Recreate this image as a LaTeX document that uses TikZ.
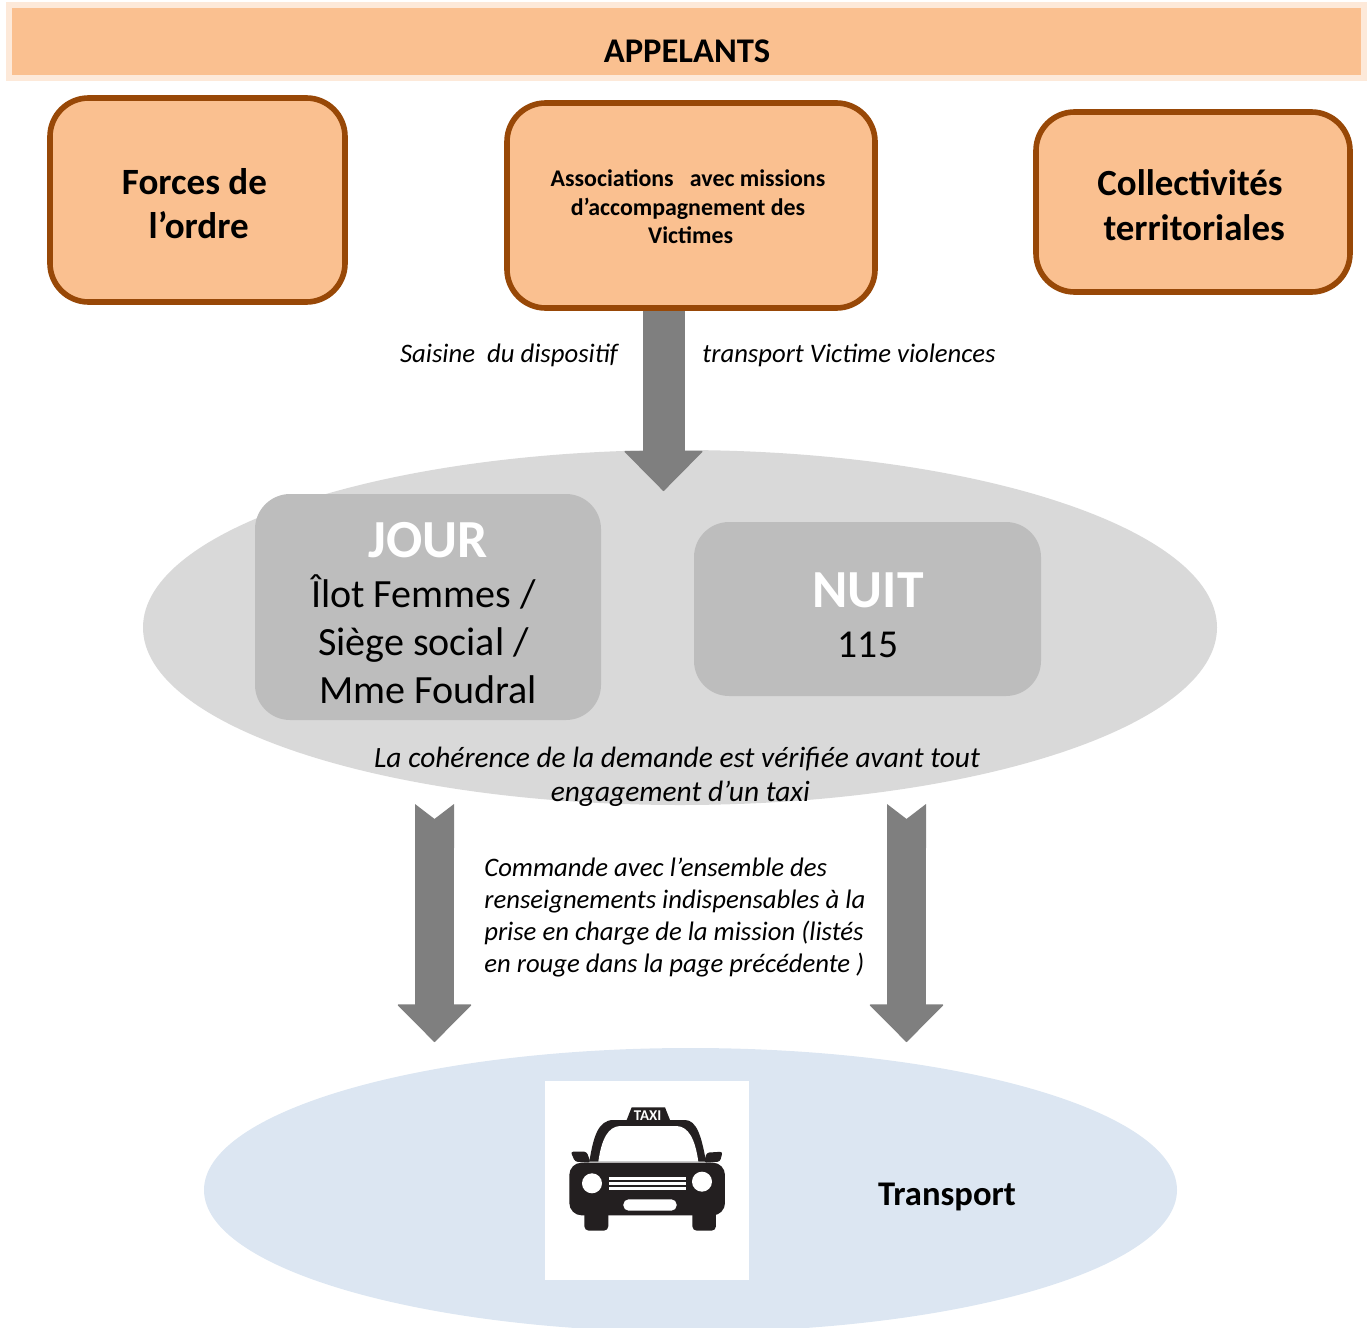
\documentclass[tikz,border=0pt]{standalone}
\usepackage{fontspec}
\setmainfont{Carlito}
\usetikzlibrary{arrows.meta, shapes.geometric}
\definecolor{appelfill}{HTML}{FAC090}
\definecolor{appelrim}{HTML}{FDE9D9}
\definecolor{appeldraw}{HTML}{984807}
\definecolor{flowgray}{HTML}{7F7F7F}
\definecolor{accueilfill}{HTML}{D9D9D9}
\definecolor{periodfill}{HTML}{BDBDBD}
\definecolor{transportfill}{HTML}{DCE6F2}
\definecolor{taxiblack}{HTML}{231F20}
% 1 unit = 1 pixel of the reference
\newcommand{\fsz}[2]{\fontsize{#1}{#2}\selectfont}
\tikzset{
    x=0.02cm, y=-0.02cm,
    appelbox/.style={draw=appeldraw, fill=appelfill, line width=3.2pt, rounded corners=22pt, inner sep=0pt},
    appeltext/.style={inner sep=0pt, align=center},
    periodbox/.style={fill=periodfill, rounded corners=20pt, align=center, inner sep=0pt},
    flowarrow/.style={draw=flowgray, line width=22.2pt, -{Triangle[length=21.6pt, width=42.8pt, round, line width=0.8pt]}},
    notched/.style={{Triangle Cap[reversed, length=8.5pt]}-{Triangle[length=21.6pt, width=42.8pt, round, line width=0.8pt]}},
    legend/.style={inner sep=0pt, align=center}
}
\begin{document}
\begin{tikzpicture}
    \clip (0,0) rectangle (1369,1328);
    % Banner
    \node[draw=appelrim, fill=appelfill, line width=3.4pt, minimum width=1355.5*0.02cm, minimum height=73*0.02cm, inner sep=0pt] (appelants) at (686.5,41.5) {};
    \node[appeltext, font=\fsz{19.7}{24}\bfseries] (appeltitle) at (687,51) {APPELANTS};
    % Callers
    \node[appelbox, minimum width=295*0.02cm, minimum height=204*0.02cm] (forces) at (197.5,200) {};
    \node[appeltext, font=\fsz{21.1}{25}\bfseries] (forcestext) at (194.5,203.5) {Forces de\\\ l’ordre};
    \node[appelbox, minimum width=368*0.02cm, minimum height=205*0.02cm] (assoc) at (691,205.5) {};
    \node[appeltext, font=\fsz{13.6}{16.2}\bfseries] (assoctext) at (688,207) {Associations\ \ \ avec missions\\d’accompagnement des\\\ Victimes};
    \node[appelbox, minimum width=314*0.02cm, minimum height=180*0.02cm] (collect) at (1193,202) {};
    \node[appeltext, font=\fsz{21}{25.6}\bfseries] (collecttext) at (1190,205.5) {Collectivités\\\ territoriales};
    % Reception
    \node[ellipse, fill=accueilfill, minimum width=1074*0.02cm, minimum height=355*0.02cm, inner sep=0pt] (accueil) at (680,627.5) {};
    \coordinate (saisinetip) at (663.5,491);
    \draw[flowarrow, line width=23.9pt, -{Triangle[length=23pt, width=45.3pt, round, line width=0.8pt]}] (assoc.south -| saisinetip) -- (saisinetip);
    \node[legend, font=\fsz{15.2}{18}\itshape] (saisine) at (509,355) {Saisine\ \ du dispositif};
    \node[legend, font=\fsz{15.2}{18}\itshape] (victime) at (849,355) {transport Victime violences};
    \node[periodbox, minimum width=346*0.02cm, minimum height=226*0.02cm] (jour) at (428,607) {};
    \node[inner sep=0pt, text=white, font=\fsz{30.5}{34}\bfseries] (jourtitle) at (428,540) {JOUR};
    \node[inner sep=0pt, align=center, font=\fsz{22.8}{27.3}] (jourtext) at (423.5,639.5) {Îlot Femmes /\\Siège social /\\\ Mme Foudral};
    \node[periodbox, minimum width=347*0.02cm, minimum height=174*0.02cm] (nuit) at (867.5,609) {};
    \node[inner sep=0pt, text=white, font=\fsz{30.5}{34}\bfseries] (nuittitle) at (868,590) {NUIT};
    \node[inner sep=0pt, font=\fsz{22.5}{27}] (nuittext) at (868,645) {115};
    \node[legend, font=\fsz{16.75}{19.6}\itshape] (coherence) at (677,777) {La cohérence de la demande est vérifiée avant tout\\\ engagement d’un taxi};
    % Transport
    \node[ellipse, fill=transportfill, minimum width=973*0.02cm, minimum height=284*0.02cm, inner sep=0pt] (transport) at (690.5,1190) {};
    \coordinate (leftstart) at (434.5,804);
    \coordinate (lefttip) at (434.5,1042);
    \coordinate (rightstart) at (906.5,804);
    \coordinate (righttip) at (906.5,1042);
    \draw[flowarrow, notched] (leftstart) -- (lefttip);
    \draw[flowarrow, notched] (rightstart) -- (righttip);
    \node[legend, align=left, anchor=north west, font=\fsz{15.2}{18.2}\itshape] (commande) at (484,858) {Commande avec l’ensemble des\\renseignements indispensables à la\\prise en charge de la mission (listés\\en rouge dans la page précédente )};
    \node[inner sep=0pt, font=\fsz{19.7}{23}\bfseries] (transportlabel) at (947,1197) {Transport};
    % Taxi icon
    \node[fill=white, minimum width=204*0.02cm, minimum height=199*0.02cm, inner sep=0pt] (taxibox) at (647,1180.5) {};
    \begin{scope}[shift={(530,1070)}, x=0.00667cm, y=-0.00667cm]
        % Roof and sign
        \fill[taxiblack] (178,275) .. controls (190,200) and (205,150) .. (250,150) -- (290,150) -- (305,112) -- (405,112) -- (420,150) -- (465,150) .. controls (500,150) and (515,200) .. (528,275) -- cycle;
        \fill[white] (205,275) .. controls (215,205) and (235,170) .. (270,168) -- (440,168) .. controls (475,170) and (495,205) .. (505,275) -- cycle;
        % Mirrors
        \fill[taxiblack, rounded corners=1.5pt] (122,245) -- (170,245) -- (182,278) -- (135,275) -- cycle;
        \fill[taxiblack, rounded corners=1.5pt] (578,245) -- (530,248) -- (522,278) -- (570,275) -- cycle;
        % Body and wheels
        \fill[taxiblack, rounded corners=2.5pt] (163,420) -- (163,482) -- (235,482) -- (235,420) -- cycle;
        \fill[taxiblack, rounded corners=2.5pt] (487,420) -- (487,482) -- (558,482) -- (558,420) -- cycle;
        \fill[taxiblack, rounded corners=7pt] (118,436) -- (118,278) -- (585,278) -- (585,436) -- cycle;
        % Lights, grille and plate
        \fill[white] (186,340) circle (30);
        \fill[white] (516,335) circle (30);
        \fill[white] (237,320) rectangle (468,329);
        \fill[white] (237,335) rectangle (468,344);
        \fill[white] (237,350) rectangle (468,360);
        \fill[white, rounded corners=3pt] (280,388) rectangle (440,422);
        \node[inner sep=0pt, text=white, font=\fsz{8.5}{10}\bfseries] (taxisign) at (353,137) {TAXI};
    \end{scope}
\end{tikzpicture}
\end{document}
